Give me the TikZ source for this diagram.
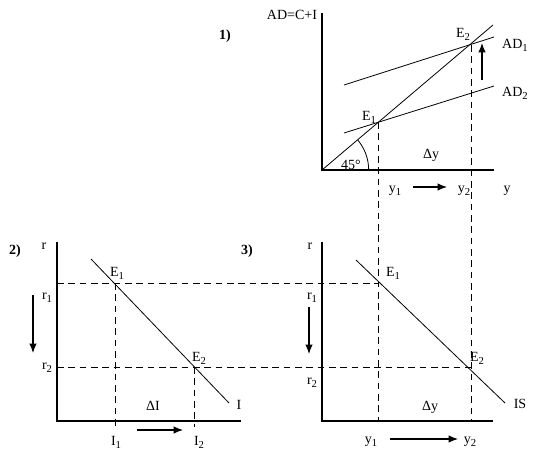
\documentclass[tikz,border=0pt]{standalone}
\usepackage{fontspec}
\setmainfont{Liberation Serif}
\usetikzlibrary{arrows.meta,positioning}
\newcommand{\sub}[2]{#1\raisebox{-0.45ex}{\fontsize{8}{8}\selectfont #2}}
\tikzset{
  ec/axis/.style={line width=0.8pt},
  ec/curve/.style={line width=0.6pt},
  ec/guide/.style={line width=0.6pt, dash pattern=on 5pt off 3.5pt},
  ec/shift/.style={line width=0.8pt, -{Latex[length=7pt,width=5.5pt]}},
  ec/lbl/.style={inner sep=0pt, font=\fontsize{10.5}{12}\selectfont},
  ec/num/.style={inner sep=0pt, font=\bfseries\fontsize{10.5}{12}\selectfont}
}

\begin{document}
\begin{tikzpicture}[x=0.75pt,y=-0.75pt]
\useasboundingbox (0,0) rectangle (533,454);

% --- panel 1: aggregate demand
\coordinate (o1) at (322,170);
\coordinate (o1top) at (322,13);
\coordinate (o1end) at (494,170);
\coordinate (deg45) at (493,25);
\coordinate (ad1a) at (344,85);
\coordinate (ad1b) at (494,37);
\coordinate (ad2a) at (344,133);
\coordinate (ad2b) at (494,86);
\coordinate (e1ad) at (378,122);
\coordinate (e2ad) at (471,45);

\draw[ec/axis] (o1top) -- (o1) -- (o1end);
\draw[ec/curve] (o1) -- (deg45);
\draw[ec/curve] (ad1a) -- (ad1b);
\draw[ec/curve] (ad2a) -- (ad2b);
\draw[ec/curve] ([xshift=35pt]o1) arc[start angle=0, end angle=40, radius=35pt];

\node[ec/num] (n1) at (225,36) {1)};
\node[ec/lbl] (adlbl) at (292,15) {AD=C+I};
\node[ec/lbl] (ad1lbl) at (515,45) {\sub{AD}{1}};
\node[ec/lbl] (ad2lbl) at (515,93) {\sub{AD}{2}};
\node[ec/lbl] (e1adlbl) at (369,117) {\sub{E}{1}};
\node[ec/lbl] (e2adlbl) at (463,34) {\sub{E}{2}};
\node[ec/lbl] (anglbl) at (351,165) {45°};
\node[ec/lbl] (dy1) at (431,155) {Δy};
\node[ec/lbl] (y1a) at (395,191) {\sub{y}{1}};
\node[ec/lbl] (y2a) at (464,191) {\sub{y}{2}};
\node[ec/lbl] (ya) at (507,191) {y};

\coordinate (upa) at (482,80);
\coordinate (upb) at (482,43);
\draw[ec/shift] (upa) -- (upb);
\coordinate (ra1) at (413,187);
\coordinate (ra2) at (447,187);
\draw[ec/shift] (ra1) -- (ra2);

% --- panel 2: investment
\coordinate (o2) at (57,421);
\coordinate (o2top) at (57,242);
\coordinate (o2end) at (241,421);
\coordinate (ia) at (91,259);
\coordinate (ib) at (229,403);
\coordinate (e1i) at (115,283);
\coordinate (e2i) at (194,367);

\draw[ec/axis] (o2top) -- (o2) -- (o2end);
\draw[ec/curve] (ia) -- (ib);

\node[ec/num] (n2) at (15,251) {2)};
\node[ec/lbl] (ri) at (44,246) {r};
\node[ec/lbl] (r1i) at (47,298) {\sub{r}{1}};
\node[ec/lbl] (r2i) at (47,368) {\sub{r}{2}};
\node[ec/lbl] (e1ilbl) at (117,273) {\sub{E}{1}};
\node[ec/lbl] (e2ilbl) at (199,358) {\sub{E}{2}};
\node[ec/lbl] (ilbl) at (239,405) {I};
\node[ec/lbl] (di) at (153,406) {ΔI};
\node[ec/lbl] (i1) at (116,442) {\sub{I}{1}};
\node[ec/lbl] (i2) at (199,442) {\sub{I}{2}};

\coordinate (dna) at (33,295);
\coordinate (dnb) at (33,353);
\draw[ec/shift] (dna) -- (dnb);
\coordinate (ri1) at (137,430);
\coordinate (ri2) at (183,430);
\draw[ec/shift] (ri1) -- (ri2);

% --- panel 3: IS curve
\coordinate (o3) at (322,421);
\coordinate (o3top) at (322,242);
\coordinate (o3end) at (493,421);
\coordinate (isa) at (356,260);
\coordinate (isb) at (505,403);
\coordinate (e1is) at (378,283);
\coordinate (e2is) at (471,367);

\draw[ec/axis] (o3top) -- (o3) -- (o3end);
\draw[ec/curve] (isa) -- (isb);

\node[ec/num] (n3) at (247,251) {3)};
\node[ec/lbl] (ris) at (310,246) {r};
\node[ec/lbl] (r1is) at (312,298) {\sub{r}{1}};
\node[ec/lbl] (r2is) at (312,383) {\sub{r}{2}};
\node[ec/lbl] (e1islbl) at (393,273) {\sub{E}{1}};
\node[ec/lbl] (e2islbl) at (477,358) {\sub{E}{2}};
\node[ec/lbl] (islbl) at (520,404) {IS};
\node[ec/lbl] (dy3) at (430,407) {Δy};
\node[ec/lbl] (y1c) at (371,442) {\sub{y}{1}};
\node[ec/lbl] (y2c) at (470,442) {\sub{y}{2}};

\coordinate (dsa) at (309,307);
\coordinate (dsb) at (309,354);
\draw[ec/shift] (dsa) -- (dsb);
\coordinate (rs1) at (390,439);
\coordinate (rs2) at (458,439);
\draw[ec/shift] (rs1) -- (rs2);

% --- guide lines
\coordinate (g1bot) at (378,421);
\coordinate (g2bot) at (471,421);
\coordinate (r1left) at (57,283);
\coordinate (r2left) at (57,367);
\coordinate (i1bot) at (115,427);
\coordinate (i2bot) at (194,427);
\draw[ec/guide] (e1ad) -- (g1bot);
\draw[ec/guide] (e2ad) -- (g2bot);
\draw[ec/guide] (r1left) -- (e1is);
\draw[ec/guide] (r2left) -- (e2is);
\draw[ec/guide] (e1i) -- (i1bot);
\draw[ec/guide] (e2i) -- (i2bot);

\end{tikzpicture}
\end{document}
